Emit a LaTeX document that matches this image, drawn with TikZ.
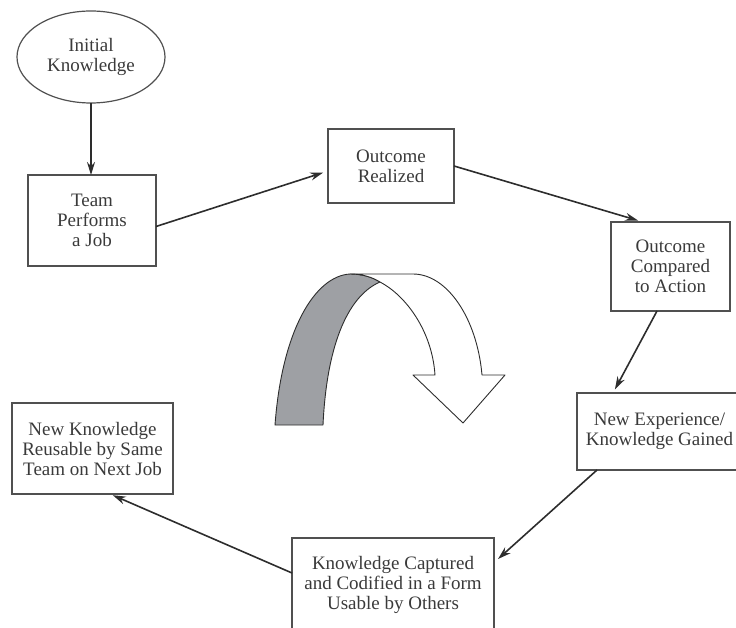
\documentclass[tikz,border=0pt]{standalone}
\usepackage{fontspec}
\setmainfont{Liberation Serif}
\usepackage{xcolor}
\usetikzlibrary{shapes.geometric, arrows.meta, calc}

\definecolor{inkgray}{RGB}{58,58,58}
\definecolor{boxgray}{RGB}{80,80,80}
\definecolor{linegray}{RGB}{45,45,45}
\definecolor{foldgray}{RGB}{158,160,164}

\begin{document}
\begin{tikzpicture}[
        x=1pt, y=-1pt,
        font=\fontsize{19}{20}\selectfont,
        block/.style={
            rectangle,
            draw=boxgray,
            line width=1.2pt,
            text=inkgray,
            align=center,
            inner sep=2pt,
            outer sep=0pt
        },
        input/.style={
            ellipse,
            draw=boxgray,
            line width=1.2pt,
            text=inkgray,
            align=center,
            minimum width=148pt,
            minimum height=92pt,
            inner sep=0pt,
            outer sep=0pt
        },
        line/.style={
            draw=linegray,
            line width=1.6pt,
            -{Stealth[length=13pt, width=8pt]}
        },
        ribbon/.style={
            draw=linegray,
            line width=0.9pt,
            line join=round
        }
    ]
        \useasboundingbox (0,0) rectangle (736,628);

        % Nodes
        \node [input] (init) at (91,57) {Initial\\Knowledge};
        \node [block, minimum width=128pt, minimum height=91pt] (team) at (92,220.5) {Team\\Performs\\a Job};
        \node [block, minimum width=126pt, minimum height=74pt] (realized) at (391,166) {Outcome\\Realized};
        \node [block, minimum width=119pt, minimum height=89pt] (compared) at (670.5,266.5) {Outcome\\Compared\\to Action};
        \node [block, minimum width=165pt, minimum height=77pt] (gained) at (659.5,431.5) {New Experience/\\Knowledge Gained};
        \node [block, minimum width=202pt, minimum height=94pt] (captured) at (393,585) {Knowledge Captured\\and Codified in a Form\\Usable by Others};
        \node [block, minimum width=161pt, minimum height=91pt] (reuse) at (92.5,448.5) {New Knowledge\\Reusable by Same\\Team on Next Job};

        % Edges
        \draw [line] (init.south) -- (init.south |- team.north);
        \draw [line, shorten >=5pt] ($(team.east)+(0,6)$) -- ($(realized.west)+(0,5)$);
        \draw [line, shorten >=5pt] (realized.east) -- ($(compared.north)+(-27.5,0)$);
        \draw [line, shorten >=4pt] ($(compared.south)+(-13.5,0)$) -- ($(gained.north)+(-46.5,0)$);
        \draw [line] ($(gained.south)+(-62.5,0)$) -- ($(captured.east)+(4,-26)$);
        \draw [line, shorten >=3pt] ($(captured.west)+(0,-12)$) -- ($(reuse.south)+(17.5,0)$);

        % Curved arrow
        \filldraw [ribbon, fill=foldgray] (275,425) .. controls (282,330) and (315,276) .. (350,274)
            .. controls (362,274) and (372,277) .. (380,282)
            .. controls (350,295) and (327,340) .. (323,425) -- cycle;
        \filldraw [ribbon, fill=white] (350,274) -- (413,274)
            .. controls (447,274) and (477,318) .. (482,375)
            -- (505,375) -- (463,423) -- (413,375) -- (435,375)
            .. controls (432,330) and (405,295) .. (380,282)
            .. controls (372,277) and (362,274) .. (350,274) -- cycle;

    \end{tikzpicture}
\end{document}
